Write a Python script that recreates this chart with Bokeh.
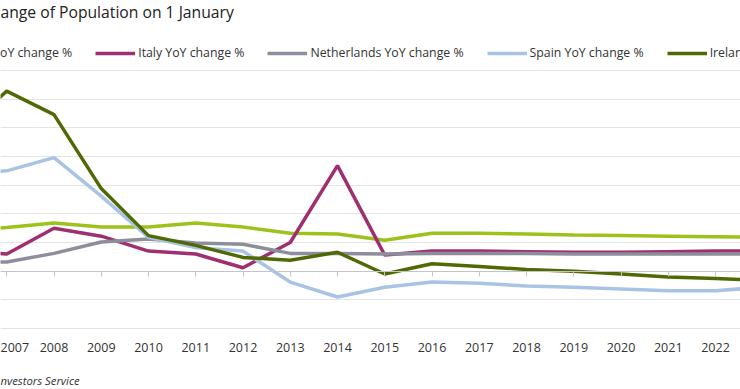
from bokeh.plotting import figure
from bokeh.models import (Range1d, LinearAxis, FixedTicker, Legend, LegendItem, Label, Grid)
from bokeh.embed import file_html
from bokeh.resources import INLINE

years = list(range(2006, 2024))
tick_years = list(range(2007, 2024))
year_labels = {y: str(y) for y in tick_years}
grid_levels = [-1.0, -0.5, 0.0, 0.5, 1.0, 1.5, 2.0, 2.5, 3.0, 3.5]

first_label = "oY change %"
first_vals = [0.70, 0.76, 0.84, 0.77, 0.77, 0.84, 0.77, 0.66, 0.65, 0.54, 0.66, 0.66, 0.65, 0.63, 0.62, 0.61, 0.60, 0.59]
italy_vals = [0.35, 0.30, 0.75, 0.61, 0.35, 0.30, 0.06, 0.50, 1.84, 0.28, 0.35, 0.35, 0.34, 0.33, 0.33, 0.34, 0.35, 0.35]
neth_vals = [0.16, 0.16, 0.31, 0.51, 0.56, 0.49, 0.47, 0.31, 0.31, 0.30, 0.31, 0.31, 0.31, 0.30, 0.30, 0.30, 0.30, 0.30]
spain_vals = [1.70, 1.75, 1.98, 1.31, 0.59, 0.41, 0.35, -0.19, -0.45, -0.28, -0.19, -0.21, -0.26, -0.28, -0.31, -0.34, -0.34, -0.28]
ireland_vals = [2.40, 3.14, 2.73, 1.44, 0.62, 0.45, 0.24, 0.19, 0.33, -0.05, 0.13, 0.08, 0.03, 0.00, -0.05, -0.10, -0.13, -0.16]

series_labels = [first_label, "Italy YoY change %", "Netherlands YoY change %",
                 "Spain YoY change %", "Ireland YoY change %"]
series_vals = [first_vals, italy_vals, neth_vals, spain_vals, ireland_vals]
series_colors = ["#9DC21B", "#9E2F70", "#8D8E9B", "#A8C3E3", "#4F6A05"]

title_text = "ange of Population on 1 January"
source_text = "nvestors Service"

FONT = "Open Sans"
W, H = 740, 389
PX_PER_YEAR = 47.25
PX_PER_PCT = 57.33
# plot area: 3.5% at 70 px from top, -1.0% at 328 px from top, 2007 at 6.25 px from left
y_top = 3.5 + 70 / PX_PER_PCT
y_bot = -1.0 - (H - 328) / PX_PER_PCT
x_left = 2007 - 6.25 / PX_PER_YEAR

p = figure(width=W, height=H, output_backend="svg", toolbar_location=None,
           x_range=Range1d(x_left, x_left + W / PX_PER_YEAR),
           y_range=Range1d(y_bot, y_top),
           x_axis_type=None, y_axis_type=None,
           min_border_left=0, min_border_right=0, min_border_top=0, min_border_bottom=0)
p.outline_line_color = None
p.background_fill_color = "white"
p.border_fill_color = "white"

p.add_layout(Grid(dimension=1, ticker=FixedTicker(ticks=grid_levels),
                  grid_line_color="#E4E4E4", grid_line_width=1))

xaxis = LinearAxis(fixed_location=0, ticker=FixedTicker(ticks=tick_years),
                   major_label_overrides=year_labels,
                   major_tick_out=5, major_tick_in=0, minor_tick_line_color=None,
                   axis_line_color="#C4C4C4", major_tick_line_color="#C4C4C4",
                   major_label_standoff=67,
                   major_label_text_font=FONT, major_label_text_font_size="12.5px",
                   major_label_text_color="#333333")
p.add_layout(xaxis, "below")

items = []
for lab, vals, col in zip(series_labels, series_vals, series_colors):
    r = p.line(years, vals, line_color=col, line_width=3.5)
    items.append(LegendItem(label=lab, renderers=[r]))

legend = Legend(items=items, orientation="horizontal", location=(-43, H - 61),
                glyph_width=40, glyph_height=16, label_height=16, label_standoff=3,
                spacing=23, padding=0, margin=0, border_line_color=None,
                background_fill_alpha=0, label_text_font=FONT,
                label_text_font_size="12.3px", label_text_color="#333333")
p.add_layout(legend)

p.add_layout(Label(x=0, y=H - 11, x_units="screen", y_units="screen", text=title_text,
                   text_font=FONT, text_font_size="15.7px", text_baseline="alphabetic",
                   text_color="#222222"))
p.add_layout(Label(x=0, y=H - 380, x_units="screen", y_units="screen", text=source_text,
                   text_font=FONT, text_font_size="11.3px", text_font_style="italic",
                   text_baseline="alphabetic", text_color="#333333"))

open("out.html", "w").write(file_html(p, INLINE))
